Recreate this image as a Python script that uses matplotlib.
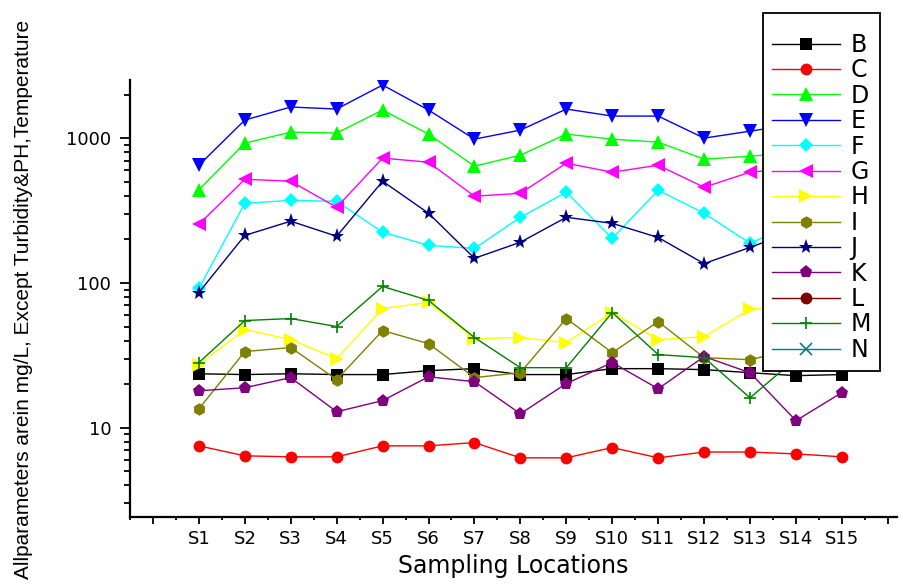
import matplotlib.pyplot as plt
from matplotlib.ticker import FixedLocator, LogLocator, NullFormatter

# -----------------------------
# Data
# -----------------------------
locations = ["S1", "S2", "S3", "S4", "S5", "S6", "S7", "S8",
             "S9", "S10", "S11", "S12", "S13", "S14", "S15"]

B = [23.6, 23.3, 23.6, 23.3, 23.3, 24.8, 25.6, 23.3, 23.3, 25.6, 25.6, 25.2, 24.0, 22.9, 23.3]
C = [7.5, 6.4, 6.3, 6.3, 7.5, 7.5, 7.9, 6.2, 6.2, 7.3, 6.2, 6.8, 6.8, 6.6, 6.3]
D = [440, 923, 1100, 1084, 1563, 1066, 640, 763, 1066, 984, 938, 716, 750, 800, 850]
E = [650, 1333, 1640, 1588, 2327, 1563, 984, 1136, 1588, 1420, 1420, 1000, 1117, 1250, 1300]
F = [91.6, 355, 372, 366, 224, 182, 173, 284, 423, 203, 437, 303, 188, 260, 320]
G = [254, 520, 504, 333, 728, 682, 397, 416, 671, 582, 650, 458, 582, 620, 650]
H = [27.3, 47.7, 40.6, 30.0, 66.6, 73.3, 41.3, 42.0, 38.7, 62.5, 40.6, 42.6, 65.6, 70, 75]
I = [13.5, 33.6, 35.8, 21.5, 46.9, 38.1, 22.2, 24.0, 56.8, 33.0, 54.1, 30.5, 29.5, 35, 40]
J = [85.9, 213, 267, 210, 504, 303, 148, 191, 284, 258, 206, 136, 176, 230, 260]
K = [18.0, 18.9, 22.2, 12.9, 15.4, 22.5, 20.8, 12.5, 20.2, 28.2, 18.6, 31.0, 24.0, 11.2, 17.5]
L = []
M = [28.2, 55.0, 56.8, 50.0, 94.6, 75.7, 42.0, 26.0, 26.0, 62.5, 32.0, 30.5, 16.1, 30, 30]
N = []

series = [("B", B), ("C", C), ("D", D), ("E", E), ("F", F), ("G", G), ("H", H),
          ("I", I), ("J", J), ("K", K), ("L", L), ("M", M), ("N", N)]

styles = {
    "B": dict(color="black", marker="s", ms=8.5),
    "C": dict(color="red", marker="o", ms=8.5),
    "D": dict(color="#00ff00", marker="^", ms=9.5),
    "E": dict(color="blue", marker="v", ms=9.5),
    "F": dict(color="cyan", marker="D", ms=7.5),
    "G": dict(color="magenta", marker="<", ms=9.5),
    "H": dict(color="yellow", marker=">", ms=9.5),
    "I": dict(color="#808000", marker="h", ms=9),
    "J": dict(color="#000080", marker="*", ms=11),
    "K": dict(color="#800080", marker="p", ms=9.5),
    "L": dict(color="#800000", marker="o", ms=8.5),
    "M": dict(color="#008000", marker="+", ms=9),
    "N": dict(color="#008080", marker="x", ms=8),
}

# -----------------------------
# Plot
# -----------------------------
fig = plt.figure(figsize=(9.04, 5.87), dpi=100)
ax = fig.add_axes([130 / 904, 1 - 517 / 587, 767 / 904, 437 / 587])

x = list(range(1, len(locations) + 1))
handles = []
for name, vals in series:
    st = styles[name]
    open_marker = st["marker"] in ("+", "x")
    h, = ax.plot(x[:len(vals)], vals, color=st["color"], lw=1,
                 marker=st["marker"], ms=st["ms"],
                 mec=st["color"], mew=1.2 if open_marker else 0,
                 label=name)
    handles.append(h)

ax.set_yscale("log")
ax.set_ylim(2.42, 2520)
ax.set_xlim(-0.5, 16.2)

ax.set_xticks(range(0, 17))
ax.set_xticklabels([""] + locations + [""])
ax.xaxis.set_minor_locator(FixedLocator([i + 0.5 for i in range(-1, 17)]))
ax.yaxis.set_minor_locator(LogLocator(base=10, subs=range(2, 10), numticks=20))
ax.yaxis.set_minor_formatter(NullFormatter())
ax.set_yticks([10, 100, 1000])
ax.set_yticklabels(["10", "100", "1000"])

for side in ("top", "right"):
    ax.spines[side].set_visible(False)
for side in ("left", "bottom"):
    ax.spines[side].set_linewidth(1.6)

ax.tick_params(axis="x", which="major", direction="out", length=5, width=1.3,
               labelsize=13, pad=4)
ax.tick_params(axis="x", which="minor", direction="out", length=2.5, width=1.3)
ax.tick_params(axis="y", which="major", direction="out", length=7.5, width=1.3,
               labelsize=13, pad=6)
ax.tick_params(axis="y", which="minor", direction="out", length=4.5, width=1.3)

ax.set_xlabel("Sampling Locations", fontsize=17, labelpad=5)
ax.set_ylabel("Allparameters arein mg/L, Except Turbidity&PH,Temperature",
              fontsize=15, family="Liberation Sans")
ax.yaxis.set_label_coords(-0.127, 0.497)

leg = ax.legend(handles=handles, loc="upper left",
                bbox_to_anchor=(763 / 904, 1 - 13 / 587),
                bbox_transform=fig.transFigure, borderaxespad=0,
                fontsize=17, handlelength=2.85, handletextpad=0.45,
                labelspacing=0.06, borderpad=0.4, fancybox=False,
                framealpha=1, edgecolor="black",
                title=" ", title_fontsize=6)
leg.get_frame().set_linewidth(1.3)
leg.set_zorder(10)

fig.savefig("out.png", dpi=100)
